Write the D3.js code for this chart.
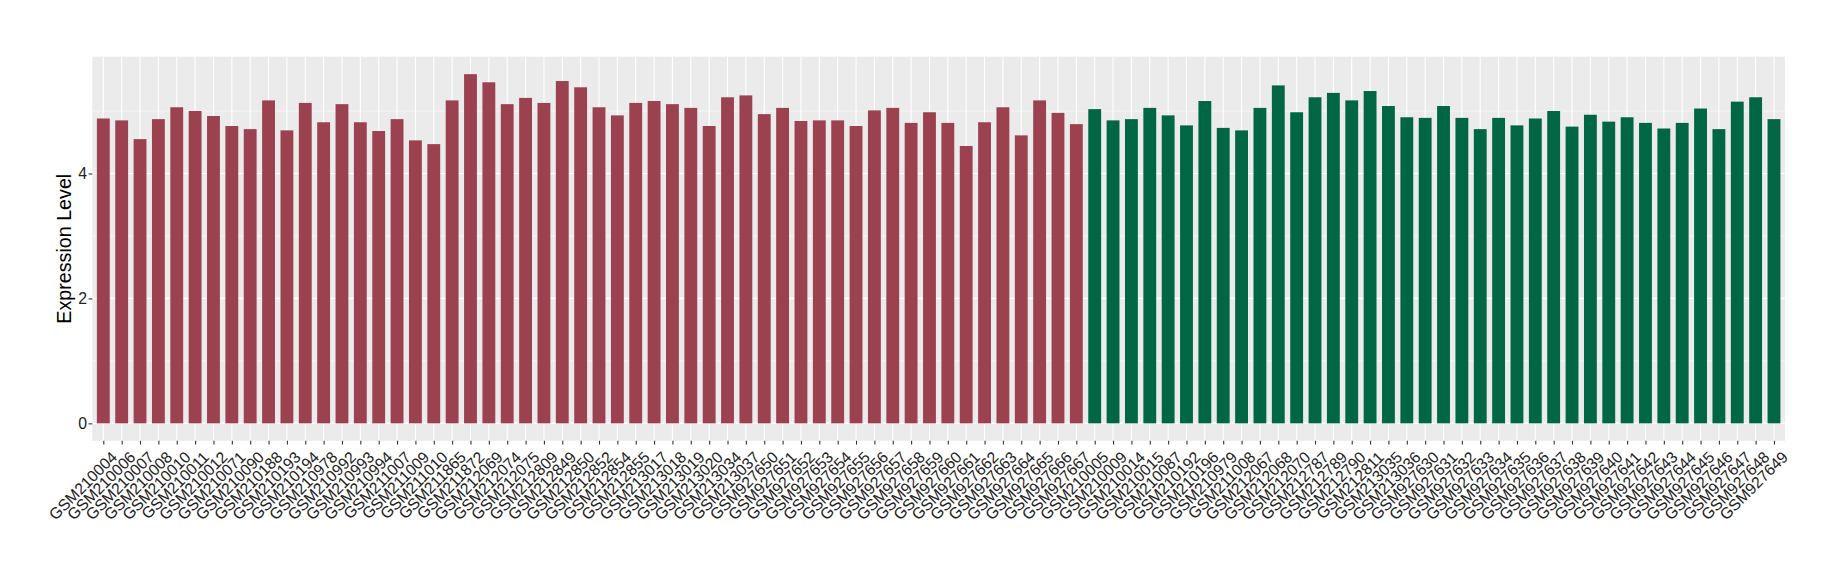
<!DOCTYPE html>
<html>
<head>
<meta charset="utf-8">
<script src="https://cdn.jsdelivr.net/npm/d3@7"></script>
<style>
  body { margin: 0; background: #fff; }
  svg text { font-family: "Liberation Sans", Arial, sans-serif; }
</style>
</head>
<body>
<svg id="chart" width="1840" height="580"></svg>
<script>

// samples of the first group (dark red)
var samplesA = ["GSM210004","GSM210006","GSM210007","GSM210008","GSM210010","GSM210011","GSM210012",
  "GSM210071","GSM210090","GSM210188","GSM210193","GSM210194","GSM210978","GSM210992","GSM210993",
  "GSM210994","GSM211007","GSM211009","GSM211010","GSM211865","GSM211872","GSM212069","GSM212074",
  "GSM212075","GSM212809","GSM212849","GSM212850","GSM212852","GSM212854","GSM212855","GSM213017",
  "GSM213018","GSM213019","GSM213020","GSM213034","GSM213037","GSM927650","GSM927651","GSM927652",
  "GSM927653","GSM927654","GSM927655","GSM927656","GSM927657","GSM927658","GSM927659","GSM927660",
  "GSM927661","GSM927662","GSM927663","GSM927664","GSM927665","GSM927666","GSM927667"];
var valuesA = [4.88,4.85,4.55,4.87,5.06,5.00,4.92,4.76,4.71,5.17,4.69,5.13,4.82,5.11,4.82,
  4.68,4.87,4.53,4.47,5.17,5.59,5.46,5.11,5.21,5.13,5.48,5.38,5.06,4.93,5.13,5.16,
  5.11,5.05,4.76,5.22,5.25,4.95,5.05,4.84,4.85,4.85,4.76,5.01,5.05,4.81,4.98,
  4.81,4.44,4.82,5.06,4.61,5.17,4.97,4.79];

// samples of the second group (dark green)
var samplesB = ["GSM210005","GSM210009","GSM210014","GSM210015","GSM210087","GSM210192","GSM210196",
  "GSM210979","GSM211008","GSM212067","GSM212068","GSM212070","GSM212787","GSM212789","GSM212790",
  "GSM212811","GSM213035","GSM213036","GSM927630","GSM927631","GSM927632","GSM927633","GSM927634",
  "GSM927635","GSM927636","GSM927637","GSM927638","GSM927639","GSM927640","GSM927641","GSM927642",
  "GSM927643","GSM927644","GSM927645","GSM927646","GSM927647","GSM927648","GSM927649"];
var valuesB = [5.03,4.85,4.87,5.05,4.93,4.77,5.16,4.73,4.69,5.05,5.41,4.98,5.22,5.29,5.17,
  5.32,5.08,4.90,4.89,5.08,4.89,4.71,4.89,4.77,4.88,5.00,4.75,4.94,4.83,4.90,4.81,
  4.72,4.81,5.04,4.71,5.15,5.22,4.87];

var groupColors = ["#9B4150", "#006644"];

var yTicks = [0, 2, 4];
var yMinor = [1, 3, 5];
var yTitle = "Expression Level";

// combine the groups into one row list
var rows = [];
samplesA.forEach(function(s, i){ rows.push({sample: s, value: valuesA[i], group: 0}); });
samplesB.forEach(function(s, i){ rows.push({sample: s, value: valuesB[i], group: 1}); });

var svg = d3.select("#chart");

var margin = {left: 92.3, right: 1840 - 1785, top: 56.7, bottom: 580 - 440.8};
var width = 1840 - margin.left - margin.right;
var height = 580 - margin.top - margin.bottom;

var g = svg.append("g").attr("transform", "translate(" + margin.left + "," + margin.top + ")");

// discrete x scale with ggplot style 0.6 padding on each side
var n = rows.length;
var step = width / (n - 1 + 1.2);
var x = d3.scalePoint()
    .domain(rows.map(function(d){ return d.sample; }))
    .range([0.6 * step, width - 0.6 * step]);
var barWidth = step * 0.7;

var yMax = d3.max(rows, function(d){ return d.value; });
var y = d3.scaleLinear()
    .domain([-0.05 * yMax, 1.05 * yMax])
    .range([height, 0]);

// panel background
g.append("rect")
    .attr("width", width).attr("height", height)
    .attr("fill", "#EBEBEB");

// minor grid
g.selectAll(".minor").data(yMinor).enter().append("line")
    .attr("x1", 0).attr("x2", width)
    .attr("y1", function(d){ return y(d); }).attr("y2", function(d){ return y(d); })
    .attr("stroke", "#fff").attr("stroke-width", 0.55);

// major grid
g.selectAll(".major").data(yTicks).enter().append("line")
    .attr("x1", 0).attr("x2", width)
    .attr("y1", function(d){ return y(d); }).attr("y2", function(d){ return y(d); })
    .attr("stroke", "#fff").attr("stroke-width", 1.1);

g.selectAll(".vgrid").data(rows).enter().append("line")
    .attr("x1", function(d){ return x(d.sample); }).attr("x2", function(d){ return x(d.sample); })
    .attr("y1", 0).attr("y2", height)
    .attr("stroke", "#fff").attr("stroke-width", 1.1);

// bars
g.selectAll(".bar").data(rows).enter().append("rect")
    .attr("x", function(d){ return x(d.sample) - barWidth / 2; })
    .attr("width", barWidth)
    .attr("y", function(d){ return y(d.value); })
    .attr("height", function(d){ return y(0) - y(d.value); })
    .attr("fill", function(d){ return groupColors[d.group]; });

// y axis
var yAxis = g.append("g")
    .call(d3.axisLeft(y).tickValues(yTicks).tickSize(3.7).tickPadding(1.5).tickFormat(d3.format("d")));
yAxis.select(".domain").remove();
yAxis.selectAll("line").attr("stroke", "#333").attr("stroke-width", 1.1);
yAxis.selectAll("text").attr("fill", "#222").style("font-size", "15.8px");

// x axis
var xAxis = g.append("g")
    .attr("transform", "translate(0," + height + ")")
    .call(d3.axisBottom(x).tickSize(3.7).tickPadding(2.5));
xAxis.select(".domain").remove();
xAxis.selectAll("line").attr("stroke", "#333").attr("stroke-width", 1.1);
xAxis.selectAll("text")
    .attr("fill", "#222")
    .style("font-size", "15.8px")
    .attr("text-anchor", "end")
    .attr("y", 0).attr("dy", "0.75em")
    .attr("transform", "translate(6,9) rotate(-45)");

// y axis title
svg.append("text")
    .attr("transform", "translate(71," + (margin.top + height / 2) + ") rotate(-90)")
    .attr("text-anchor", "middle")
    .attr("fill", "#000")
    .style("font-size", "19.7px")
    .text(yTitle);

</script>
</body>
</html>
